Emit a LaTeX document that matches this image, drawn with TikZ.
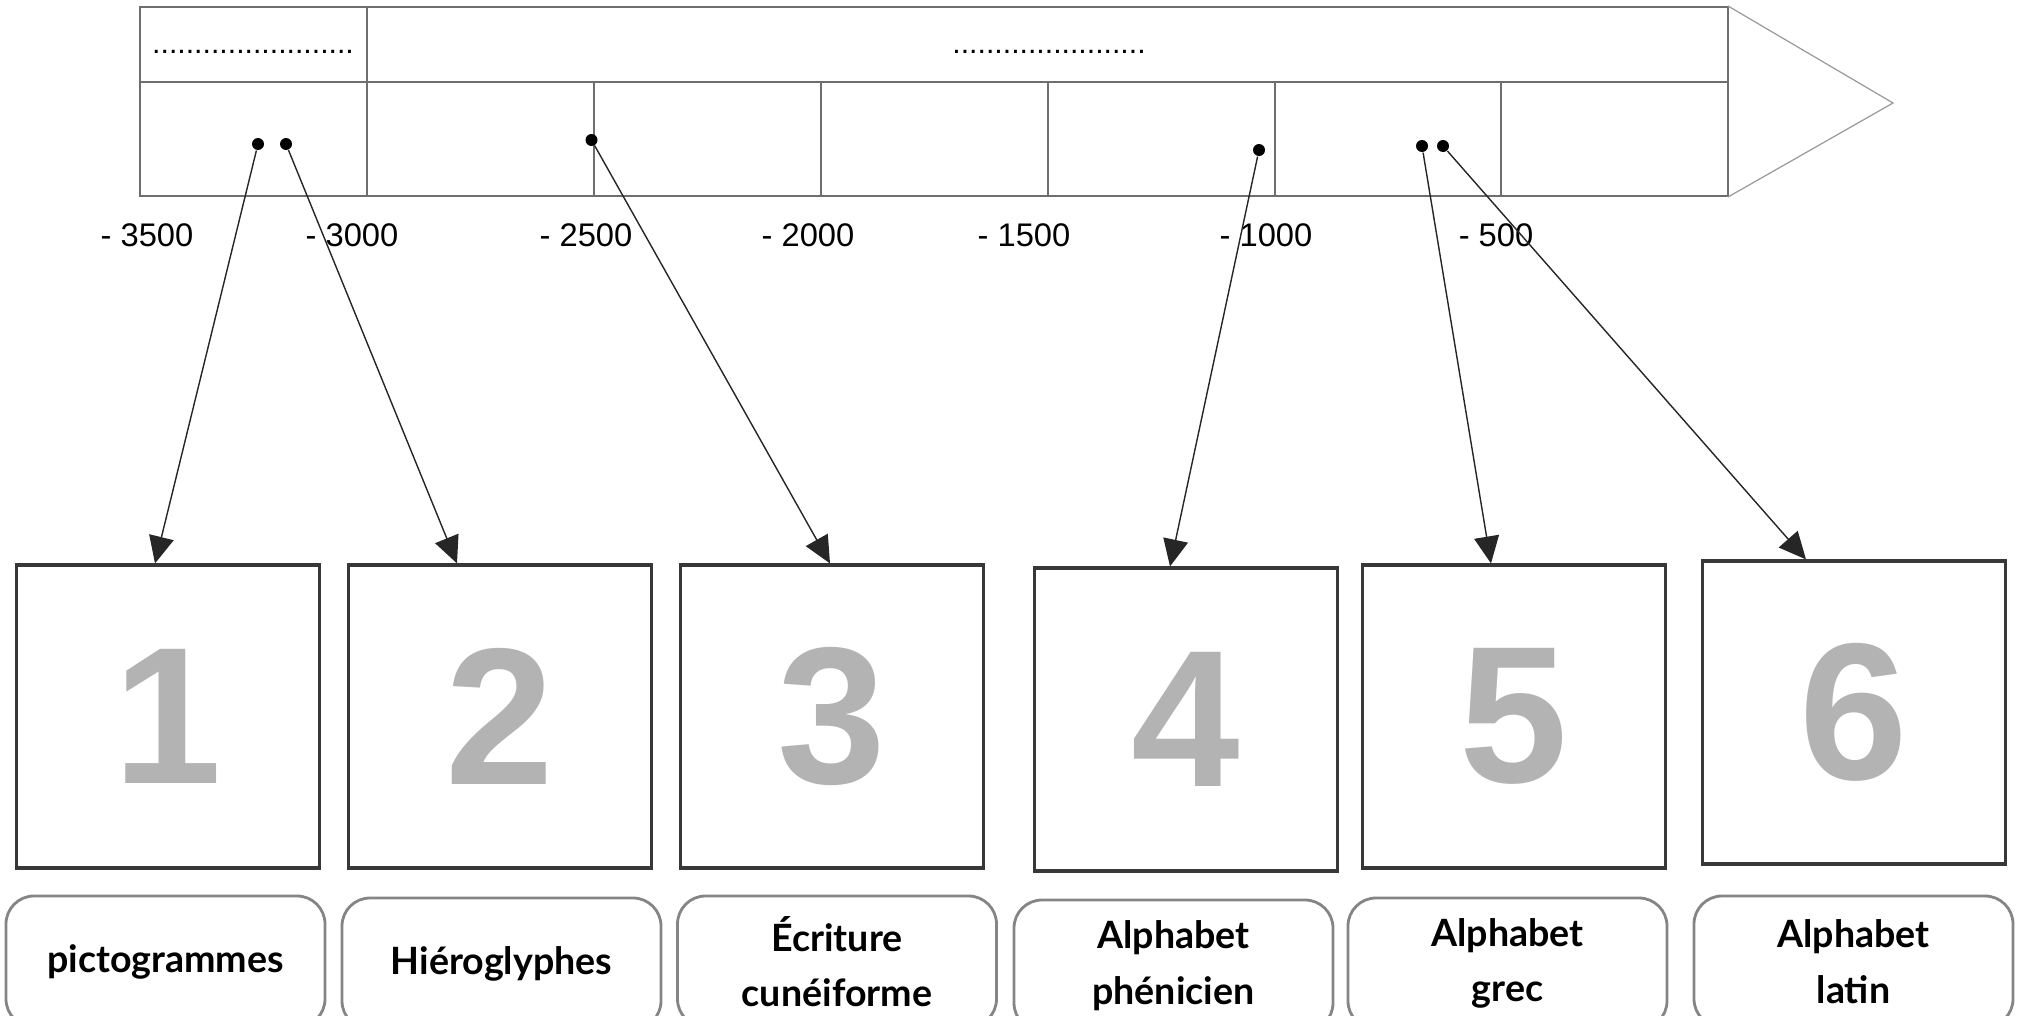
\documentclass[tikz,border=0pt]{standalone}
\usepackage{fontspec}
\setmainfont{Liberation Sans}
\newfontfamily\penfont{Lato}
\usetikzlibrary{arrows.meta}
\definecolor{barline}{HTML}{6E6E6E}
\definecolor{tipline}{HTML}{9A9A9A}
\definecolor{boxline}{HTML}{383838}
\definecolor{numgray}{HTML}{B3B3B3}
\definecolor{tagline}{HTML}{858585}

\begin{document}
\begin{tikzpicture}
  [every node/.style={inner sep=0pt},
   numbox/.style={draw=boxline,line width=0.9pt,minimum width=3.03cm,minimum height=3.03cm,
     text=numgray,font=\fontsize{55.5}{56}\selectfont\bfseries},
   tagbox/.style={draw=tagline,line width=0.8pt,rounded corners=0.28cm,minimum width=3.19cm,
     minimum height=1.31cm,align=center,font=\penfont\bfseries\fontsize{10.7}{15.8}\selectfont},
   dot/.style={circle,fill=black,minimum size=0.12cm},
   year/.style={font=\fontsize{9.3}{11}\selectfont},
   era/.style={anchor=base,font=\fontsize{8.6}{10}\selectfont},
   link/.style={-{Triangle[length=0.27cm,width=0.25cm]},line width=0.4pt,color=black!85}]

  \useasboundingbox (0,0) rectangle (20.17,-10.16);

  % the time bar
  \draw[barline,line width=0.6pt] (1.40,-0.07) rectangle (17.28,-1.96);
  \draw[barline,line width=0.6pt] (1.40,-0.82) -- (17.28,-0.82);
  \draw[barline,line width=0.6pt] (3.67,-0.07) -- (3.67,-1.96);
  \foreach \x in {5.94,8.21,10.48,12.75,15.01}
    \draw[barline,line width=0.6pt] (\x,-0.82) -- (\x,-1.96);
  \draw[tipline,line width=0.35pt] (17.28,-0.06) -- (18.93,-1.03) -- (17.28,-1.97);

  \node[era] (era1) at (2.53,-0.535) {........................};
  \node[era] (era2) at (10.49,-0.535) {.......................};

  \foreach \x/\y in {1.47/3500,3.52/3000,5.86/2500,8.08/2000,10.24/1500,12.66/1000,14.96/500}
    \node[year] (y\y) at (\x,-2.35) {- \y};

  \node[dot] (d1) at (2.58,-1.44) {};
  \node[dot] (d2) at (2.86,-1.44) {};
  \node[dot] (d3) at (5.915,-1.40) {};
  \node[dot] (d4) at (12.59,-1.50) {};
  \node[dot] (d5) at (14.22,-1.46) {};
  \node[dot] (d6) at (14.43,-1.46) {};

  % numbered boxes
  \node[numbox] (box1) at (1.68,-7.165) {1};
  \node[numbox] (box2) at (5.00,-7.165) {2};
  \node[numbox] (box3) at (8.32,-7.165) {3};
  \node[numbox] (box4) at (11.86,-7.195) {4};
  \node[numbox] (box5) at (15.14,-7.165) {5};
  \node[numbox] (box6) at (18.54,-7.125) {6};

  % names
  \node[tagbox] (tag1) at (1.655,-9.615) {pictogrammes};
  \node[tagbox] (tag2) at (5.015,-9.635) {Hiéroglyphes};
  \node[tagbox] (tag3) at (8.37,-9.615) {Écriture\\cunéiforme};
  \node[tagbox] (tag4) at (11.735,-9.655) {Alphabet\\phénicien};
  \node[tagbox] (tag5) at (15.075,-9.635) {Alphabet\\grec};
  \node[tagbox] (tag6) at (18.535,-9.615) {Alphabet\\latin};

\foreach \from/\to/\dx in {d1/box1/-0.13,d2/box2/-0.43,d3/box3/-0.02,d4/box4/-0.16,d5/box5/-0.23,d6/box6/-0.48}
    \draw[link] (\from) -- ([xshift=\dx cm]\to.north);

\end{tikzpicture}
\end{document}
